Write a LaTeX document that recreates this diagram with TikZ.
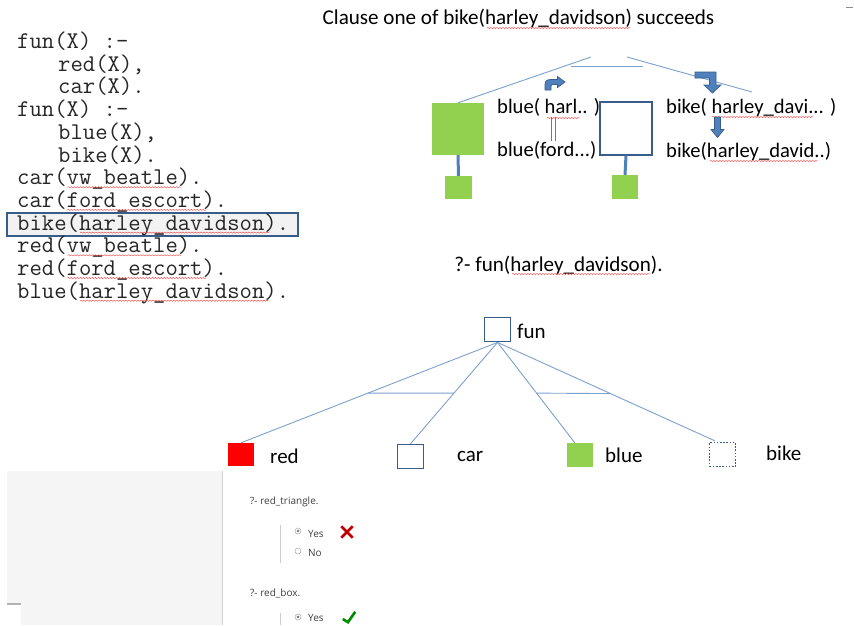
\documentclass[tikz,border=0pt]{standalone}
\usepackage{fontspec}
\setmainfont{Carlito}
\newfontfamily\uifont{Open Sans}
\usetikzlibrary{calc,decorations.pathmorphing}
\definecolor{leaf}{HTML}{92D050}
\definecolor{edge}{HTML}{385D8A}
\definecolor{stem}{HTML}{4F81BD}
\definecolor{thin}{HTML}{7DA1CE}
\definecolor{panel}{HTML}{F5F5F5}
\tikzset{
  codeline/.style={anchor=west, inner sep=0pt, text height=15pt, text depth=3pt, text=black!85, font=\ttfamily\fontsize{24}{24}\selectfont},
  lbl/.style={anchor=west, inner sep=0pt, font=\fontsize{20.6}{24}\selectfont},
  treelbl/.style={anchor=west, inner sep=0pt, font=\fontsize{21}{24}\selectfont},
  uitext/.style={anchor=west, inner sep=0pt, text=black!75, font=\uifont\fontsize{10}{12}\selectfont},
  wavy/.style={draw=red!75, line width=0.4pt, decorate, decoration={snake, segment length=3pt, amplitude=0.6pt}},
  thinline/.style={draw=thin, line width=0.9pt},
  stemline/.style={draw=stem, line width=3pt},
  leafbox/.style={fill=leaf, draw=none, inner sep=0pt},
  outbox/.style={draw=edge, fill=white, inner sep=0pt},
  bentarrow/.style={fill=stem, draw=edge, line width=0.7pt, line join=miter},
  radio/.style={circle, draw=black!35, fill=white, inner sep=0pt, minimum size=6pt, line width=0.5pt}
}
\begin{document}
\begin{tikzpicture}[x=1pt,y=-1pt]
\useasboundingbox (0,0) rectangle (854,625);
\fill[white] (0,0) rectangle (854,625);

% ---------- title ----------
\node[font=\fontsize{21.1}{24}\selectfont, inner sep=0pt] (title) at (518.5,18) {Clause one of bike(harley\_davidson) succeeds};
\draw[wavy] (487,28) -- (630,28);
\draw[black!45, line width=0.6pt] (846,7) -- (853,7);

% ---------- code listing ----------
\filldraw[fill=black!5, draw=edge, line width=1.1pt] (7,213) rectangle (298,236);
\node[codeline] (c1) at (17,42.5) {fun(X) :-};
\node[codeline] (c2) at (58,65.2) {red(X),};
\node[codeline] (c3) at (58,87.9) {car(X).};
\node[codeline] (c4) at (17,110.6) {fun(X) :-};
\node[codeline] (c5) at (58,133.3) {blue(X),};
\node[codeline] (c6) at (58,156) {bike(X).};
\node[codeline] (c7) at (17,178.7) {car(vw\_beatle).};
\node[codeline] (c8) at (17,201.4) {car(ford\_escort).};
\node[codeline] (c9) at (17,224.1) {bike(harley\_davidson).};
\node[codeline] (c10) at (17,246.8) {red(vw\_beatle).};
\node[codeline] (c11) at (17,269.5) {red(ford\_escort).};
\node[codeline] (c12) at (17,292.2) {blue(harley\_davidson).};
\draw[wavy] (67.4,187.2) -- (180.8,187.2);
\draw[wavy] (67.4,209.9) -- (206,209.9);
\draw[wavy] (80,232.6) -- (269,232.6);
\draw[wavy] (67.4,255.3) -- (180.8,255.3);
\draw[wavy] (67.4,278) -- (206,278);
\draw[wavy] (80,300.7) -- (269,300.7);

% ---------- upper diagram ----------
\coordinate (tl) at (591,57);
\coordinate (tr) at (627,57);
\coordinate (br) at (752,92);
\coordinate (hb1) at (571,66);
\coordinate (hb2) at (643,66);
\node[leafbox, minimum width=52pt, minimum height=52pt] (big) at (458,129) {};
\node[leafbox, minimum width=27pt, minimum height=23pt] (sg1) at (458.5,187.5) {};
\node[outbox, line width=1.1pt, minimum width=52pt, minimum height=53pt] (wb) at (626,128.5) {};
\node[leafbox, minimum width=26pt, minimum height=24pt] (sg2) at (625,187) {};
\draw[thinline] (big.north) -- (tl);
\draw[thinline] (tr) -- (br);
\draw[thinline] (hb1) -- (hb2);
\draw[stemline] (big.south) -- (sg1.north);
\draw[stemline] (wb.south) -- (sg2.north);

\node[lbl] (bh) at (497,107) {blue( harl.. )};
\node[lbl] (bf) at (497,150) {blue(ford...)};
\node[lbl] (kh) at (666,108) {bike( harley\_davi... )};
\node[lbl] (kd) at (666,152) {bike(harley\_david..)};
\draw[wavy] (547,118) -- (580,118);
\draw[wavy] (712,117) -- (813,117);
\draw[wavy] (710,161) -- (818,161);
% double line between blue labels
\draw[stem, line width=0.8pt] (551,117) -- (551,141);
\draw[stem, line width=0.8pt] (555,117) -- (555,141);

% bent arrow (up then right)
\filldraw[bentarrow] (545,90) -- (545,84.5) .. controls (545,81) and (547,79.5) .. (551,79.5) -- (557.5,79.5) -- (557.5,76.5) -- (565,82) -- (557.5,87.5) -- (557.5,84.5) -- (553,84.5) .. controls (551.6,84.5) and (551,85) .. (551,86.5) -- (551,90) -- cycle;
% bent arrow (right then down)
\filldraw[bentarrow] (695,72) -- (716,72) -- (716,85) -- (721,85) -- (712.5,93) -- (704,85) -- (709.5,85) -- (709.5,78) -- (695,78) -- cycle;
% straight arrow down
\filldraw[bentarrow] (714.5,117) -- (720.5,117) -- (720.5,129.5) -- (724,129.5) -- (717.5,137.5) -- (711,129.5) -- (714.5,129.5) -- cycle;

% ---------- query ----------
\node[font=\fontsize{21.1}{24}\selectfont, inner sep=0pt] (query) at (558.5,265) {?- fun(harley\_davidson).};
\draw[wavy] (512,274) -- (650,274);

% ---------- lower tree ----------
\node[outbox, line width=1.8pt, minimum width=26pt, minimum height=24pt] (fun) at (497.5,329.5) {};
\node[treelbl] (funl) at (517,331) {fun};
\node[fill=red, inner sep=0pt, minimum width=26pt, minimum height=23pt] (red) at (241,454.5) {};
\node[outbox, line width=1.5pt, minimum width=26pt, minimum height=24pt] (car) at (410.5,456.5) {};
\node[leafbox, minimum width=26pt, minimum height=24pt] (blue) at (580,455) {};
\node[draw=edge, line width=1.4pt, dash pattern=on 1.6pt off 1.6pt, inner sep=0pt, minimum width=26pt, minimum height=24pt] (bike) at (722.5,454.5) {};
\node[treelbl] (redl) at (270,456) {red};
\node[treelbl] (carl) at (457,456) {car};
\node[treelbl] (bluel) at (605,455) {blue};
\node[treelbl] (bikel) at (766,453) {bike};
\coordinate (bluetop) at ($(blue.north west)+(8,0)$);
\coordinate (biketop) at ($(bike.north west)+(6,-1)$);
\draw[thinline] (fun.south) -- (red.north);
\draw[thinline] (fun.south) -- (car.north);
\draw[thinline] (fun.south) -- (bluetop);
\draw[thinline] (fun.south) -- (biketop);
\draw[thinline] ($(fun.south)!0.505!(red.north)$) -- ($(fun.south)!0.5!(car.north)$);
\draw[thinline] ($(fun.south)!0.505!(bluetop)$) -- ($(fun.south)!0.52!(biketop)$);

% ---------- bottom panel ----------
\fill[panel] (21,471) rectangle (222,625);
\fill[panel] (7,471) rectangle (21,604);
\draw[black!18, line width=0.8pt] (222,471) -- (222,625);
\draw[black!30, line width=1.5pt] (7,604) -- (21,604);

\node[uitext] (q1) at (250,502) {?- red\_triangle.};
\draw[black!20, line width=0.8pt] (280,525) -- (280,563);
\node[radio] (r1) at (298,531) {};
\fill[black!55] (r1.center) circle (1.4pt);
\node[uitext] (y1) at (308,534) {Yes};
\node[radio] (r2) at (298,551) {};
\node[uitext] (n1) at (308,553) {No};
\node[inner sep=0pt, minimum size=11pt] (x1) at (347,532) {};
\draw[red!75!black, line width=2.6pt] (x1.north west) -- (x1.south east) (x1.south west) -- (x1.north east);

\node[uitext] (q2) at (250,593) {?- red\_box.};
\draw[black!20, line width=0.8pt] (280,613) -- (280,625);
\node[radio] (r3) at (298,617) {};
\fill[black!55] (r3.center) circle (1.4pt);
\node[uitext] (y2) at (308,618) {Yes};
\node[inner sep=0pt, minimum size=12pt] (ck) at (349,618) {};
\draw[green!55!black, line width=2.6pt] ($(ck.west)+(0,1)$) -- ($(ck.south)+(-1,-2)$) -- (ck.north east);
\end{tikzpicture}
\end{document}
